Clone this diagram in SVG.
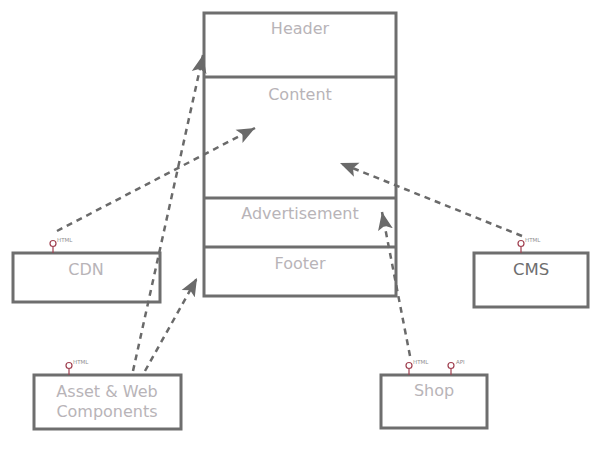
<svg xmlns="http://www.w3.org/2000/svg" width="598" height="450" viewBox="0 0 598 450">
<style>
.box{fill:#fff;stroke:#6e6e6e;stroke-width:3}
.sep{stroke:#6e6e6e;stroke-width:3}
.t{font-family:"DejaVu Sans",sans-serif;font-size:16px;fill:#b8b4b8;text-anchor:middle}
.td{fill:#6e6e6e;font-size:16.5px}
.pl{font-family:"DejaVu Sans",sans-serif;font-size:5.5px;fill:#909090}
.port{fill:#fff;stroke:#a04050;stroke-width:1.2}
.stem{stroke:#a04050;stroke-width:1.2}
.c{fill:none;stroke:#6a6a6a;stroke-width:2.5;stroke-dasharray:6 5;marker-end:url(#ah)}
</style>
<defs>
<marker id="ah" markerUnits="userSpaceOnUse" markerWidth="20" markerHeight="16" refX="18" refY="8" orient="auto">
<path d="M0,0.5 L18,8 L0,15.5 L4,8 Z" fill="#6a6a6a"/>
</marker>
</defs>
<g id="page">
<rect class="box" x="204" y="13" width="192" height="283"/>
<line class="sep" x1="204" y1="77" x2="396" y2="77"/>
<line class="sep" x1="204" y1="198" x2="396" y2="198"/>
<line class="sep" x1="204" y1="247" x2="396" y2="247"/>
</g>
<g id="header"><text class="t" x="300" y="34">Header</text></g>
<g id="content"><text class="t" x="300" y="100">Content</text></g>
<g id="advertisement"><text class="t" x="300" y="219">Advertisement</text></g>
<g id="footer"><text class="t" x="300" y="269">Footer</text></g>
<g id="cdn">
<rect class="box" x="13" y="253" width="147" height="49"/>
<text class="t" x="86" y="275">CDN</text>
<line class="stem" x1="53" y1="246.5" x2="53" y2="253"/>
<circle class="port" cx="53" cy="243.5" r="3"/>
<text class="pl" x="57" y="242">HTML</text>
</g>
<g id="cms">
<rect class="box" x="474" y="253" width="114" height="54"/>
<text class="t td" x="531" y="275">CMS</text>
<line class="stem" x1="521" y1="246.5" x2="521" y2="253"/>
<circle class="port" cx="521" cy="243.5" r="3"/>
<text class="pl" x="525" y="242">HTML</text>
</g>
<g id="assets">
<rect class="box" x="34" y="375" width="147" height="54"/>
<text class="t" x="107" y="397">Asset &amp; Web</text>
<text class="t" x="107" y="417">Components</text>
<line class="stem" x1="69" y1="368.5" x2="69" y2="375"/>
<circle class="port" cx="69" cy="365.5" r="3"/>
<text class="pl" x="73" y="364">HTML</text>
</g>
<g id="shop">
<rect class="box" x="381" y="375" width="106" height="53"/>
<text class="t" x="434" y="396">Shop</text>
<line class="stem" x1="409" y1="368.5" x2="409" y2="375"/>
<circle class="port" cx="409" cy="365.5" r="3"/>
<text class="pl" x="413" y="364">HTML</text>
<line class="stem" x1="451" y1="368.5" x2="451" y2="375"/>
<circle class="port" cx="451" cy="365.5" r="3"/>
<text class="pl" x="456" y="364">API</text>
</g>
<g id="connectors">
<line class="c" x1="57" y1="231" x2="255" y2="128"/>
<line class="c" x1="133" y1="371" x2="203" y2="55"/>
<line class="c" x1="145" y1="371" x2="197" y2="278"/>
<line class="c" x1="522" y1="236" x2="340" y2="163"/>
<line class="c" x1="410" y1="356" x2="382" y2="212"/>
</g>
</svg>
